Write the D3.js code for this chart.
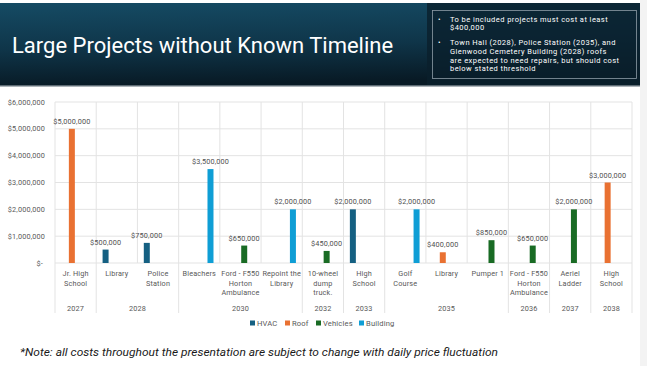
<!DOCTYPE html>
<html>
<head>
<meta charset="utf-8">
<script src="https://cdn.jsdelivr.net/npm/d3@7"></script>
<style>
  html, body { margin: 0; padding: 0; background: #fff; }
  svg { display: block; }
</style>
</head>
<body>
<svg id="chart" width="647" height="366"></svg>
<script>
// data
const categories = ["Jr. High School", "Library", "Police Station", "Bleachers", "Ford - F550 Horton Ambulance",
  "Repoint the Library", "10-wheel dump truck.", "High School", "Golf Course", "Library", "Pumper 1",
  "Ford - F550 Horton Ambulance", "Aeriel Ladder", "High School"];
const labelLines = [["Jr. High", "School"], ["Library"], ["Police", "Station"], ["Bleachers"], ["Ford - F550", "Horton", "Ambulance"],
  ["Repoint the", "Library"], ["10-wheel", "dump", "truck."], ["High", "School"], ["Golf", "Course"], ["Library"], ["Pumper 1"],
  ["Ford - F550", "Horton", "Ambulance"], ["Aeriel", "Ladder"], ["High", "School"]];
const years = ["2027", "2028", "2028", "2030", "2030", "2030", "2032", "2033", "2035", "2035", "2035", "2036", "2037", "2038"];
const types = ["Roof", "HVAC", "HVAC", "Building", "Vehicles", "Building", "Vehicles", "HVAC", "Building", "Roof", "Vehicles", "Vehicles", "Vehicles", "Roof"];
const costs = [5000000, 500000, 750000, 3500000, 650000, 2000000, 450000, 2000000, 2000000, 400000, 850000, 650000, 2000000, 3000000];
const series = ["HVAC", "Roof", "Vehicles", "Building"];
const colors = ["#156082", "#E97132", "#196B24", "#0F9ED5"];
const yTicks = [0, 1000000, 2000000, 3000000, 4000000, 5000000, 6000000];
const notes = [
  ["To be included projects must cost at least", "$400,000"],
  ["Town Hall (2028), Police Station (2035), and", "Glenwood Cemetery Building (2028) roofs", "are expected to need repairs, but should cost", "below stated threshold"]
];

const svg = d3.select("#chart");
const font = "Roboto, 'Noto Sans', sans-serif";

// slide background + side strip
svg.append("rect").attr("x", 640).attr("y", 0).attr("width", 7).attr("height", 366).attr("fill", "#f3f3f3");

// header banner
const defs = svg.append("defs");
const grad = defs.append("linearGradient").attr("id", "band").attr("x1", 0).attr("y1", 0).attr("x2", 0.15).attr("y2", 1);
grad.append("stop").attr("offset", "0%").attr("stop-color", "#154b64");
grad.append("stop").attr("offset", "55%").attr("stop-color", "#0f3549");
grad.append("stop").attr("offset", "100%").attr("stop-color", "#081a25");
svg.append("rect").attr("x", 0).attr("y", 3).attr("width", 640).attr("height", 83).attr("fill", "url(#band)");
svg.append("rect").attr("x", 427).attr("y", 3).attr("width", 213).attr("height", 83).attr("fill", "#0a1f2c").attr("opacity", 0.8);
svg.append("rect").attr("x", 0).attr("y", 85).attr("width", 640).attr("height", 1.5).attr("fill", "#5d6b74");

svg.append("text")
    .attr("x", 12).attr("y", 53)
    .attr("fill", "#ffffff")
    .style("font-family", font)
    .style("font-size", "22px")
    .text("Large Projects without Known Timeline");

svg.append("rect").attr("x", 432.5).attr("y", 10.5).attr("width", 204).attr("height", 68)
    .attr("fill", "none").attr("stroke", "#8d9ca6").attr("stroke-width", 0.8);

let ly = 21.5;
notes.forEach((lines, i) => {
  svg.append("text").attr("x", 438).attr("y", ly).attr("fill", "#fff")
      .style("font-family", font).style("font-size", "7.5px").text("•");
  lines.forEach((ln, j) => {
    svg.append("text").attr("x", 450).attr("y", ly + j * 8.7).attr("fill", "#fff")
        .style("font-family", font).style("font-size", "7.5px").style("letter-spacing", "0.45px").text(ln);
  });
  ly += lines.length * 8.7 + 6.2;
});

// chart
const plotL = 55, plotR = 632, plotT = 102, plotB = 263;

const x0 = d3.scaleBand().domain(d3.range(categories.length)).range([plotL, plotR]).padding(0);
const x1 = d3.scaleBand().domain(series).range([0, x0.bandwidth()]).paddingInner(0.2).paddingOuter(0.85);
const y = d3.scaleLinear().domain([0, 6000000]).range([plotB, plotT]);
const color = d3.scaleOrdinal().domain(series).range(colors);

const grid = svg.append("g");
grid.selectAll("line.h").data(yTicks).join("line")
    .attr("x1", plotL).attr("x2", plotR)
    .attr("y1", d => y(d)).attr("y2", d => y(d))
    .attr("stroke", "#e3e3e3").attr("stroke-width", 1);
grid.selectAll("line.v").data(d3.range(categories.length + 1)).join("line")
    .attr("x1", d => d < categories.length ? x0(d) : plotR)
    .attr("x2", d => d < categories.length ? x0(d) : plotR)
    .attr("y1", plotT).attr("y2", plotB)
    .attr("stroke", "#e3e3e3").attr("stroke-width", 1);

const small = sel => sel.attr("fill", "#595959")
    .style("font-family", font).style("font-size", "7.3px").style("letter-spacing", "0.15px");

// y axis labels
svg.append("g").selectAll("text").data(yTicks).join("text")
    .attr("x", d => d === 0 ? 43 : 45)
    .attr("y", d => y(d) + 2.5)
    .attr("text-anchor", "end")
    .call(small)
    .text(d => d === 0 ? "$-" : d3.format("$,")(d));

// bars
const rows = costs.map((v, i) => ({i, v, t: types[i]}));
svg.append("g").selectAll("rect").data(rows).join("rect")
    .attr("x", d => x0(d.i) + x1(d.t))
    .attr("width", x1.bandwidth())
    .attr("y", d => y(d.v))
    .attr("height", d => y(0) - y(d.v))
    .attr("fill", d => color(d.t));

svg.append("g").selectAll("text").data(rows).join("text")
    .attr("x", d => x0(d.i) + x1(d.t) + x1.bandwidth() / 2)
    .attr("y", d => y(d.v) - 5)
    .attr("text-anchor", "middle")
    .call(small)
    .attr("fill", "#505050")
    .text(d => d3.format("$,")(d.v));

// category labels
const cat = svg.append("g").selectAll("g").data(labelLines).join("g");
cat.each(function(lines, i) {
  lines.forEach((ln, j) => {
    d3.select(this).append("text")
        .attr("x", x0(i) + x0.bandwidth() / 2)
        .attr("y", 276 + j * 9.7)
        .attr("text-anchor", "middle")
        .call(small)
        .text(ln);
  });
});

// year groups
const groups = [];
years.forEach((yr, i) => {
  const g = groups[groups.length - 1];
  if (g && g.year === yr) g.end = i; else groups.push({year: yr, start: i, end: i});
});
const gx = g => [x0(g.start), x0(g.end) + x0.bandwidth()];
svg.append("g").selectAll("line").data(groups.map(g => gx(g)[0]).concat([plotR])).join("line")
    .attr("x1", d => d).attr("x2", d => d)
    .attr("y1", plotB).attr("y2", 313)
    .attr("stroke", "#e3e3e3").attr("stroke-width", 1);
svg.append("g").selectAll("text").data(groups).join("text")
    .attr("x", g => (gx(g)[0] + gx(g)[1]) / 2)
    .attr("y", 310.5)
    .attr("text-anchor", "middle")
    .call(small)
    .text(g => g.year);

// legend
const legendX = [250, 285, 316, 359];
const leg = svg.append("g").selectAll("g").data(series).join("g")
    .attr("transform", (d, i) => `translate(${legendX[i]},323)`);
leg.append("rect").attr("x", 0).attr("y", -2.5).attr("width", 5).attr("height", 5).attr("fill", d => color(d));
leg.append("text").attr("x", 7).attr("y", 2.5)
    .call(small)
    .style("font-size", "7.6px")
    .text(d => d);

// footnote
svg.append("text")
    .attr("x", 20).attr("y", 355.5)
    .attr("fill", "#1a1a1a")
    .attr("textLength", 478).attr("lengthAdjust", "spacingAndGlyphs")
    .style("font-family", font).style("font-size", "11px").style("font-style", "italic")
    .text("*Note: all costs throughout the presentation are subject to change with daily price fluctuation");
</script>
</body>
</html>
